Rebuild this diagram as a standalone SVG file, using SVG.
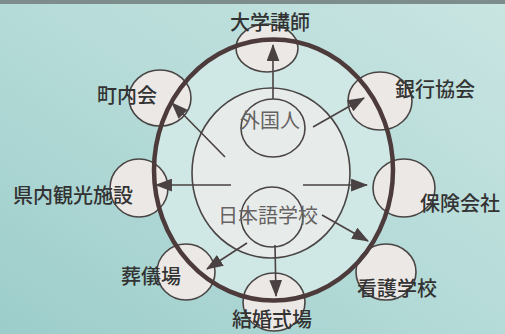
<svg xmlns="http://www.w3.org/2000/svg" width="505" height="334" viewBox="0 0 505 334">
<defs>
<linearGradient id="bg" x1="0" y1="1" x2="1" y2="0">
<stop offset="0" stop-color="#9ccdca"/>
<stop offset="0.5" stop-color="#b5dbd8"/>
<stop offset="1" stop-color="#c9e5e2"/>
</linearGradient>
<marker id="ah" viewBox="0 0 16 12" refX="15" refY="6" markerWidth="17" markerHeight="13" markerUnits="userSpaceOnUse" orient="auto">
<path d="M0,0 L16,6 L0,12 Z" fill="#4a4242"/>
</marker>
</defs>
<style>
.node{fill:#ebe8e5;stroke:#4a4545;stroke-width:1.6}
.lbl{font-family:"Noto Sans CJK JP","Noto Sans",sans-serif;font-size:20px;font-weight:500;fill:#333;text-anchor:middle}
.inner{fill:#666262;font-weight:400}
.con{stroke:#4a4242;stroke-width:1.6;fill:none;marker-end:url(#ah)}
</style>
<rect width="505" height="334" fill="url(#bg)"/>
<rect width="505" height="4" fill="#7d8d8c"/>
<g id="outer-area">
<ellipse cx="273.5" cy="170" rx="119.5" ry="130.5" fill="#d0e8e5"/>
</g>
<g id="core">
<ellipse cx="271" cy="173" rx="79" ry="85" fill="#e7ecea" stroke="#4a4545" stroke-width="1.6"/>
</g>
<g id="n-daigaku"><ellipse class="node" cx="267" cy="48" rx="31" ry="24"/></g>
<g id="n-chonaikai"><ellipse class="node" cx="160" cy="98" rx="31" ry="28"/></g>
<g id="n-ginko"><ellipse class="node" cx="380" cy="101" rx="32" ry="29"/></g>
<g id="n-kennai"><ellipse class="node" cx="139" cy="188" rx="29" ry="29"/></g>
<g id="n-hoken"><ellipse class="node" cx="404" cy="188" rx="31" ry="29"/></g>
<g id="n-sogi"><ellipse class="node" cx="186" cy="272" rx="29" ry="28"/></g>
<g id="n-kekkon"><ellipse class="node" cx="274" cy="302" rx="31" ry="29"/></g>
<g id="n-kango"><ellipse class="node" cx="386" cy="272" rx="30" ry="28"/></g>
<g id="ring">
<ellipse cx="273.5" cy="170" rx="119.5" ry="130.5" fill="none" stroke="#4d3b3c" stroke-width="4.5"/>
</g>
<g id="n-gaikokujin"><ellipse class="node" cx="273" cy="128" rx="32" ry="29" style="fill:none"/></g>
<g id="n-nihongo"><ellipse class="node" cx="272" cy="217" rx="31" ry="30" style="fill:none"/></g>
<g id="connectors">
<line class="con" x1="273" y1="99" x2="273" y2="45"/>
<line class="con" x1="225" y1="157" x2="172" y2="103"/>
<line class="con" x1="313" y1="127" x2="364" y2="98"/>
<line class="con" x1="231" y1="185" x2="156" y2="185"/>
<line class="con" x1="303" y1="185" x2="367" y2="185"/>
<line class="con" x1="322" y1="215" x2="368" y2="241"/>
<line class="con" x1="247" y1="243" x2="207" y2="269"/>
<line class="con" x1="275" y1="245" x2="276" y2="296"/>
</g>
<g id="labels">
<text class="lbl" x="270" y="30">大学講師</text>
<text class="lbl" x="127" y="103">町内会</text>
<text class="lbl" x="435" y="97">銀行協会</text>
<text class="lbl" x="73" y="203">県内観光施設</text>
<text class="lbl" x="460" y="211">保険会社</text>
<text class="lbl inner" x="270" y="128">外国人</text>
<text class="lbl inner" x="268" y="223">日本語学校</text>
<text class="lbl" x="151" y="284">葬儀場</text>
<text class="lbl" x="397" y="296">看護学校</text>
<text class="lbl" x="272" y="327">結婚式場</text>
</g>
</svg>
